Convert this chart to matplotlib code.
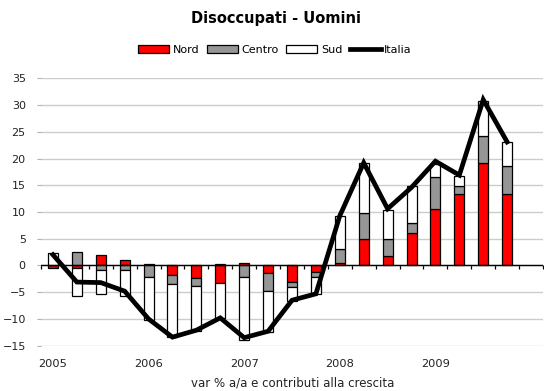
import numpy as np
import matplotlib
matplotlib.use("Agg")
import matplotlib.pyplot as plt
from matplotlib.patches import Patch
from matplotlib.lines import Line2D
from matplotlib.transforms import blended_transform_factory

plt.rcParams['font.family'] = ['DejaVu Sans']

# Quarterly data, 2005 Q1 - 2009 Q4
years = ["2005", "2006", "2007", "2008", "2009"]
nord = [-0.5, -0.5, 1.9, 1.0, 0.2, -1.7, -2.4, -3.2, 0.5, -1.4,
        -3.1, -1.3, 0.5, 5.0, 1.7, 6.1, 10.6, 13.3, 19.2, 13.3]
centro = [0.0, 2.5, -0.8, -0.8, -2.2, -1.7, -1.4, 0.3, -2.2, -3.3,
          -0.9, -0.8, 2.5, 4.9, 3.2, 1.9, 6.0, 1.5, 5.1, 5.3]
sud = [2.3, -5.2, -4.5, -5.0, -8.0, -9.9, -8.4, -6.7, -11.8, -7.7,
       -2.6, -3.2, 6.3, 9.2, 5.5, 6.8, 2.3, 1.9, 6.5, 4.4]
italia = [2.0, -3.1, -3.2, -4.8, -10.0, -13.4, -12.1, -9.8, -13.5, -12.3,
          -6.5, -5.3, 9.3, 19.2, 10.6, 14.6, 19.5, 16.9, 31.0, 23.1]

series = [("Nord", nord, "#ff0000"),
          ("Centro", centro, "#969696"),
          ("Sud", sud, "#ffffff")]

fig = plt.figure(figsize=(5.44, 3.91), dpi=100)
ax = fig.add_axes([41 / 544, 1 - 345.7 / 391, 502 / 544, (345.7 - 78.3) / 391])

x = np.arange(len(italia))
pos_base = np.zeros(len(x))
neg_base = np.zeros(len(x))
for name, vals, col in series:
    v = np.array(vals, dtype=float)
    bottom = np.where(v >= 0, pos_base, neg_base)
    ax.bar(x, v, bottom=bottom, width=0.42, color=col, edgecolor="black",
           linewidth=0.9, zorder=3)
    pos_base += np.where(v >= 0, v, 0)
    neg_base += np.where(v < 0, v, 0)

ax.plot(x, italia, color="black", linewidth=3.4, zorder=5,
        solid_joinstyle="miter")

ax.set_xlim(-0.5, 20.5)
ax.set_ylim(-15, 35)
ax.set_yticks(np.arange(-15, 36, 5))
ax.yaxis.grid(True, color="#cccccc", linewidth=1.0, zorder=0)
ax.set_axisbelow(True)
ax.axhline(0, color="black", linewidth=1.0, zorder=4)

for s in ["top", "right", "left"]:
    ax.spines[s].set_visible(False)
ax.spines["bottom"].set_position(("data", 0))
ax.spines["bottom"].set_visible(False)

ax.set_xticks(np.arange(-0.5, 20.6, 1.0))
ax.set_xticklabels([])
ax.tick_params(axis="x", direction="out", length=3, width=0.9, color="black")
ax.tick_params(axis="y", direction="out", length=3, width=0.8,
               color="#b0b0b0", labelsize=8, labelcolor="#222222", pad=8)

trans = blended_transform_factory(ax.transData, ax.transAxes)
for i, yr in enumerate(years):
    ax.text(i * 4, -0.068, yr, transform=trans, ha="center", va="center",
            fontsize=8.2, color="#222222")

fig.text(293 / 544, 1 - 383 / 391, "var % a/a e contributi alla crescita",
         ha="center", va="center", fontsize=8.5, color="#222222")

fig.text(276 / 544, 1 - 19 / 391, "Disoccupati - Uomini", ha="center",
         va="center", fontsize=10.5, fontweight="bold")

handles = [Patch(facecolor=c, edgecolor="black", linewidth=0.9)
           for _, _, c in series]
handles.append(Line2D([0], [0], color="black", linewidth=3.4))
labels = [n for n, _, _ in series] + ["Italia"]
fig.legend(handles, labels, loc="center", bbox_to_anchor=(275 / 544, 1 - 50 / 391),
           ncol=4, frameon=False, fontsize=8, handlelength=2.8,
           handleheight=0.65, handletextpad=0.3, columnspacing=0.7,
           borderpad=0, borderaxespad=0)

fig.savefig("out.png", dpi=100)
